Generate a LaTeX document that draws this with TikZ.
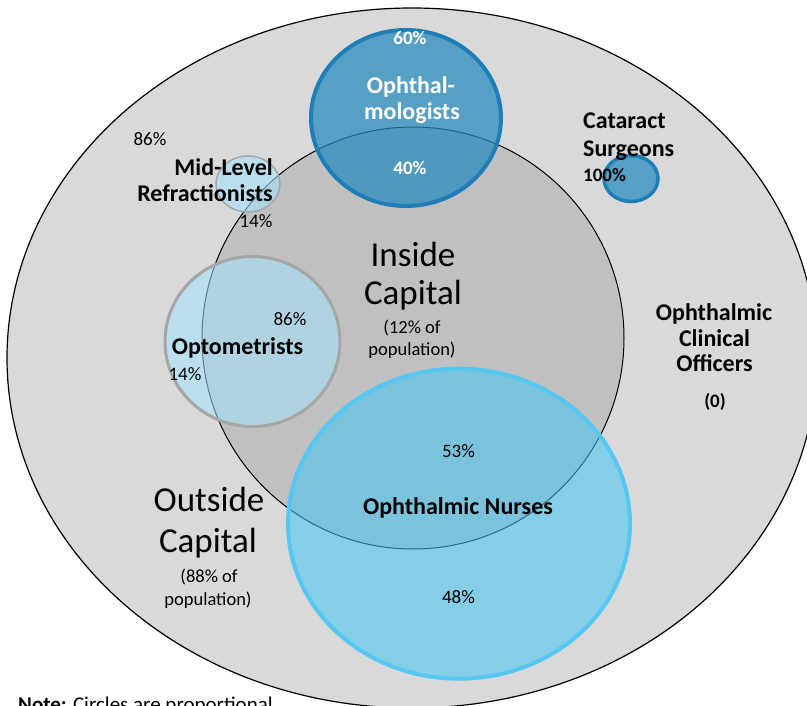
\documentclass[tikz,border=0pt]{standalone}
\usepackage{fontspec}
\setmainfont{Carlito}
\definecolor{outerg}{HTML}{D9D9D9}
\definecolor{innerg}{HTML}{C0C0C0}
\definecolor{ophfill}{RGB}{36,139,190}
\definecolor{ophline}{HTML}{1F7EB8}
\definecolor{optfill}{RGB}{164,228,255}
\definecolor{optline}{HTML}{A6A6A6}
\definecolor{nurfill}{RGB}{70,196,244}
\definecolor{nurline}{HTML}{56C6F2}
\begin{document}
\begin{tikzpicture}[x=1pt,y=-1pt,
  lbl/.style={font=\fontsize{24}{28}\selectfont\bfseries, anchor=base, inner sep=0pt},
  wlbl/.style={lbl, text=white},
  pct/.style={font=\fontsize{19}{22}\selectfont, anchor=base, inner sep=0pt},
  wpct/.style={pct, font=\fontsize{19}{22}\selectfont\bfseries, text=white},
  big/.style={font=\fontsize{35}{40}\selectfont, anchor=base, inner sep=0pt},
  small/.style={font=\fontsize{18.5}{22}\selectfont, anchor=base, inner sep=0pt}]
\useasboundingbox (0,0) rectangle (807,706);
% regions
\draw[fill=outerg, line width=1.2pt] (412,358) ellipse [x radius=405pt, y radius=350pt];
\draw[fill=innerg, line width=1pt] (413,338) circle [radius=211pt];
% ophthalmologists
\draw[fill=ophfill, fill opacity=0.72, draw=ophline, line width=4pt] (406,118) ellipse [x radius=95pt, y radius=88pt];
% mid-level refractionists
\draw[fill=optfill, fill opacity=0.6, draw=optline, line width=1.5pt] (248,184) ellipse [x radius=32pt, y radius=28pt];
% cataract surgeons
\draw[fill=ophfill, fill opacity=0.72, draw=ophline, line width=3.5pt] (631,178.5) ellipse [x radius=27pt, y radius=23pt];
% optometrists
\draw[fill=optfill, fill opacity=0.55, draw=optline, line width=3pt] (252.5,341.5) ellipse [x radius=87.5pt, y radius=85pt];
% ophthalmic nurses
\draw[fill=nurfill, fill opacity=0.56, draw=nurline, line width=4pt] (459,523.7) ellipse [x radius=171pt, y radius=155pt];
% texts
\node[wpct] (p60) at (410,45) {60\%};
\node[wlbl] (oph1) at (411,94) {Ophthal-};
\node[wlbl] (oph2) at (412,120) {mologists};
\node[wpct] (p40) at (410,175) {40\%};
\node[pct] (p86a) at (150,146) {86\%};
\node[lbl, anchor=base east] (mid1) at (273,176) {Mid-Level};
\node[lbl, anchor=base east] (mid2) at (273,201.5) {Refractionists};
\node[pct] (p14a) at (256,228) {14\%};
\node[lbl, anchor=base west] (cat1) at (583,129) {Cataract};
\node[lbl, anchor=base west] (cat2) at (583,157) {Surgeons};
\node[pct, font=\fontsize{19}{22}\selectfont\bfseries, anchor=base west] (p100) at (583,182) {100\%};
\node[big] (ins1) at (413,267) {Inside};
\node[big] (ins2) at (413,305) {Capital};
\node[small] (ins3) at (412,334) {(12\% of};
\node[small] (ins4) at (412,355) {population)};
\node[pct] (p86b) at (290,326) {86\%};
\node[lbl] (opt) at (237.5,354) {Optometrists};
\node[pct] (p14b) at (185,380) {14\%};
\node[lbl] (ocl1) at (714,320) {Ophthalmic};
\node[lbl] (ocl2) at (714.5,346.5) {Clinical};
\node[lbl] (ocl3) at (714.5,371.5) {Officers};
\node[pct, font=\fontsize{19}{22}\selectfont\bfseries] (ocl4) at (715,407) {(0)};
\node[pct] (p53) at (458.5,457) {53\%};
\node[lbl] (nur) at (458,514) {Ophthalmic Nurses};
\node[pct] (p48) at (458.5,603) {48\%};
\node[big] (out1) at (209,511) {Outside};
\node[big] (out2) at (208,552) {Capital};
\node[small] (out3) at (209,582) {(88\% of};
\node[small] (out4) at (208,605) {population)};
\node[font=\fontsize{21}{24}\selectfont, anchor=base west, inner sep=0pt] (note) at (18,711) {\textbf{Note:} Circles are proportional};
\end{tikzpicture}
\end{document}
